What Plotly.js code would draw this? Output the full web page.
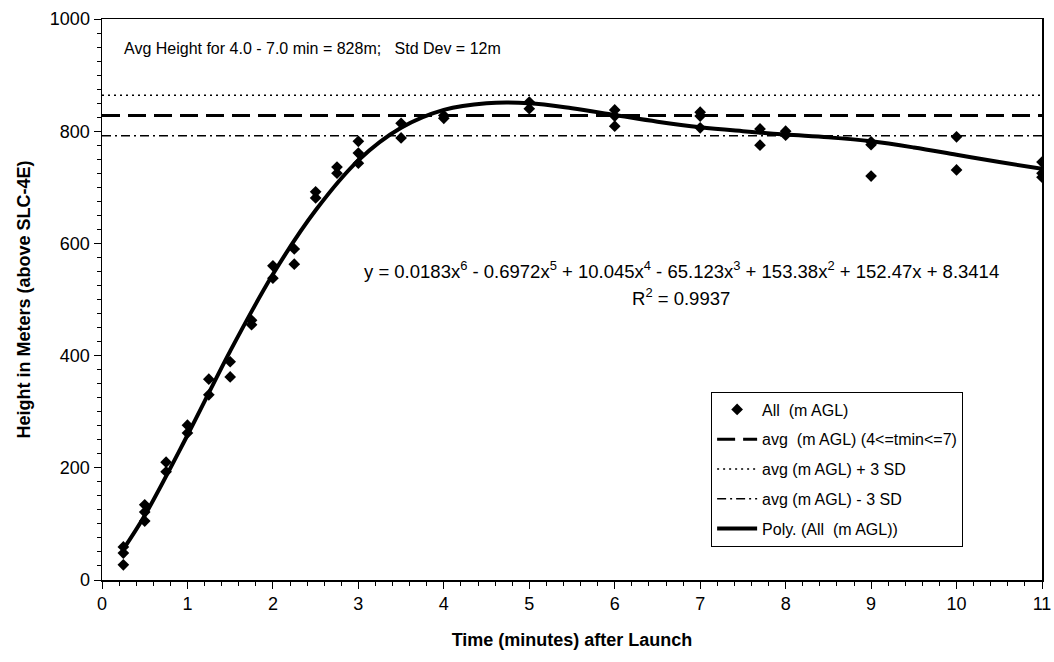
<!DOCTYPE html>
<html>
<head>
<meta charset="utf-8">
<script src="https://cdn.plot.ly/plotly-3.0.1.min.js"></script>
<style>html,body{margin:0;padding:0;background:#fff;}#chart{width:1054px;height:662px;}</style>
</head>
<body>
<div id="chart"></div>
<script>
// Observed heights (m AGL) vs time (minutes)
const obsTime = [0.25,0.25,0.25, 0.5,0.5,0.5, 0.75,0.75, 1.0,1.0, 1.25,1.25, 1.5,1.5, 1.75,1.75,
  2.0,2.0, 2.25,2.25, 2.5,2.5, 2.75,2.75, 3.0,3.0,3.0, 3.5,3.5, 4.0,4.0, 5.0,5.0,
  6.0,6.0,6.0, 7.0,7.0,7.0, 7.7,7.7, 8.0,8.0, 9.0,9.0,9.0, 10.0,10.0, 11.0,11.0,11.0];
const obsHeight = [27,48,59, 134,121,105, 210,193, 276,262, 358,330, 389,362, 463,455,
  560,538, 590,563, 692,681, 736,725, 782,761,743, 814,788, 828,823, 852,840,
  838,827,809, 834,827,806, 804,775, 800,793, 781,776,720, 790,731, 745,725,718];

// Polynomial trend line
const trendTime   = [0.25,0.5,1,1.5,2,2.5,3,3.5,4,4.5,5,5.5,6,6.5,7,7.5,8,8.5,9,9.5,10,10.5,11];
const trendHeight = [55,115,258,408,545,659,748,806,838,850,850,841,829,817,807,800,794,789,782,771,758,745,733];

// Reference lines
const lineTime = [0, 11];
const avgHeight = 828;
const stdDev = 12;
const plus3SD = [avgHeight + 3*stdDev, avgHeight + 3*stdDev];
const minus3SD = [avgHeight - 3*stdDev, avgHeight - 3*stdDev];
const avgLine = [avgHeight, avgHeight];

const xTicks = [0,1,2,3,4,5,6,7,8,9,10,11];
const yTicks = [0,200,400,600,800,1000];

const FONT = '"Liberation Sans", Arial, Helvetica, sans-serif';

const traces = [
  {x: obsTime, y: obsHeight, type: 'scatter', mode: 'markers', name: 'All  (m AGL)', legendgroup: 'a',
   marker: {symbol: 'diamond', size: 9, color: '#000'}},
  {x: lineTime, y: avgLine, type: 'scatter', mode: 'lines', name: 'avg  (m AGL) (4<=tmin<=7)', legendgroup: 'b',
   line: {color: '#000', width: 3, dash: '18px,8px'}},
  {x: lineTime, y: plus3SD, type: 'scatter', mode: 'lines', name: 'avg (m AGL) + 3 SD', legendgroup: 'c',
   line: {color: '#000', width: 1.5, dash: '2px,4px'}},
  {x: lineTime, y: minus3SD, type: 'scatter', mode: 'lines', name: 'avg (m AGL) - 3 SD', legendgroup: 'd',
   line: {color: '#000', width: 1.5, dash: '9px,4px,2px,4px'}},
  {x: trendTime, y: trendHeight, type: 'scatter', mode: 'lines', name: 'Poly. (All  (m AGL))', legendgroup: 'e',
   line: {color: '#000', width: 4, shape: 'spline', smoothing: 1}}
];

const layout = {
  width: 1054, height: 662,
  margin: {l: 102, r: 12, t: 19, b: 82},
  paper_bgcolor: '#fff', plot_bgcolor: '#fff',
  font: {family: FONT, color: '#000', size: 17},
  showlegend: true,
  legend: {x: 0.648, y: 0.336, xanchor: 'left', yanchor: 'top',
    bgcolor: '#fff', bordercolor: '#000', borderwidth: 1,
    font: {family: FONT, size: 16, color: '#000'}, tracegroupgap: 6,
    itemwidth: 40},
  xaxis: {
    range: [0, 11], tickvals: xTicks, ticktext: xTicks.map(String),
    showgrid: false, zeroline: false, showline: true, linecolor: '#000', linewidth: 1.5,
    mirror: true, ticks: 'outside', ticklen: 7, tickwidth: 1, tickcolor: '#000',
    minor: {dtick: 0.2, ticks: 'outside', ticklen: 4, tickcolor: '#000', showgrid: false},
    tickfont: {family: FONT, size: 18},
    title: {text: '<b>Time (minutes) after Launch</b>', font: {family: FONT, size: 18}, standoff: 20}
  },
  yaxis: {
    range: [0, 1000], tickvals: yTicks, ticktext: yTicks.map(String),
    showgrid: false, zeroline: false, showline: true, linecolor: '#000', linewidth: 1.5,
    mirror: true, ticks: 'outside', ticklen: 7, tickwidth: 1, tickcolor: '#000',
    minor: {dtick: 25, ticks: 'outside', ticklen: 4, tickcolor: '#000', showgrid: false},
    tickfont: {family: FONT, size: 18},
    title: {text: '<b>Height in Meters (above SLC-4E)</b>', font: {family: FONT, size: 18}, standoff: 14}
  },
  annotations: [
    {xref: 'paper', yref: 'paper', x: 0.021, y: 0.948, xanchor: 'left', yanchor: 'middle',
     text: 'Avg Height for 4.0 - 7.0 min = 828m;   Std Dev = 12m', showarrow: false,
     font: {family: FONT, size: 16}},
    {xref: 'paper', yref: 'paper', x: 0.616, y: 0.553, xanchor: 'center', yanchor: 'middle',
     text: 'y = 0.0183x<sup>6</sup> - 0.6972x<sup>5</sup> + 10.045x<sup>4</sup> - 65.123x<sup>3</sup> + 153.38x<sup>2</sup> + 152.47x + 8.3414',
     showarrow: false, font: {family: FONT, size: 18.5}},
    {xref: 'paper', yref: 'paper', x: 0.616, y: 0.505, xanchor: 'center', yanchor: 'middle',
     text: 'R<sup>2</sup> = 0.9937', showarrow: false, font: {family: FONT, size: 18.5}}
  ]
};

Plotly.newPlot('chart', traces, layout, {staticPlot: true, displayModeBar: false});
</script>
</body>
</html>
